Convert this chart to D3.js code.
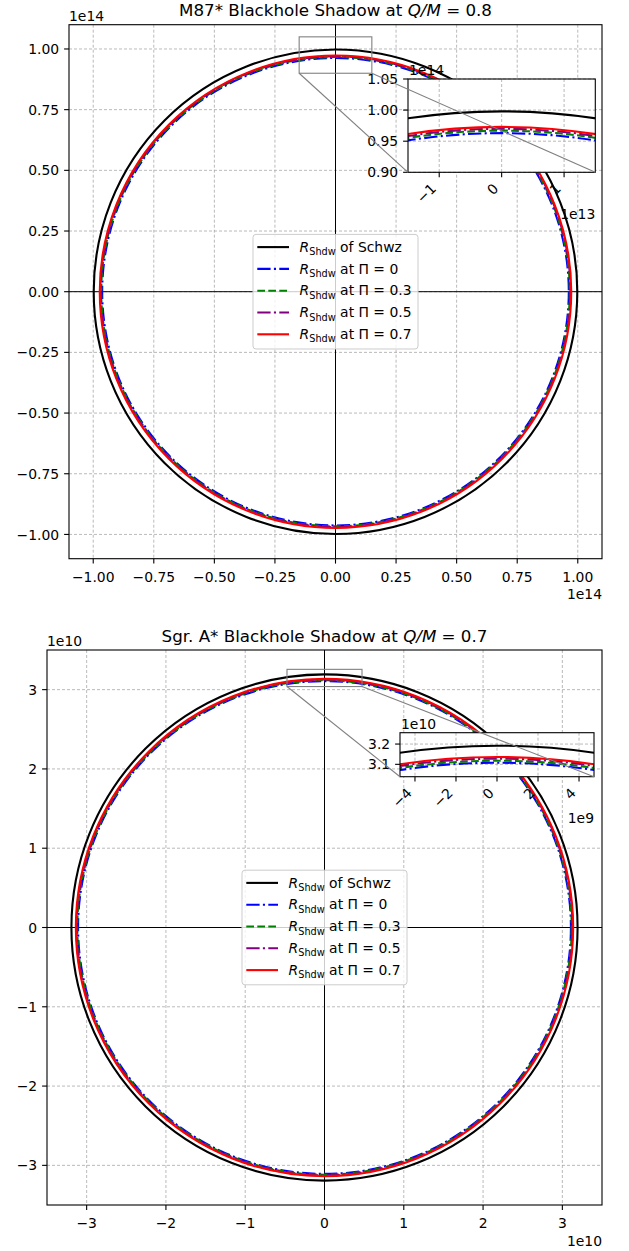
<!DOCTYPE html>
<html lang="en">
<head>
<meta charset="UTF-8">
<title>Blackhole Shadow</title>
<style>
  body { margin: 0; background: #fff; }
  svg { display: block; font-family: "DejaVu Sans", sans-serif; }
  text { white-space: pre; }
</style>
</head>
<body>
<svg width="629" height="1251"></svg>
<script src="https://d3js.org/d3.v7.min.js"></script>
<script>
// legend labels (after R_Shdw), colours and line styles
const seriesLabels = ["of Schwz", "at Π = 0", "at Π = 0.3", "at Π = 0.5", "at Π = 0.7"];
const seriesColors = ["black", "blue", "green", "purple", "red"];
const seriesStyles = ["solid", "dashdot", "dash", "dashdot", "solid"];

// shadow radii
const m87Radii = [0.998e14, 0.963e14, 0.967e14, 0.970e14, 0.973e14];
const sgrRadii = [3.192e10, 3.108e10, 3.118e10, 3.128e10, 3.136e10];

// tick values (in units of the offset exponent)
const m87Ticks = [-1, -0.75, -0.5, -0.25, 0, 0.25, 0.5, 0.75, 1];
const sgrTicks = [-3, -2, -1, 0, 1, 2, 3];
const m87InsetXTicks = [-1, 0, 1];
const m87InsetYTicks = [0.90, 0.95, 1.00, 1.05];
const sgrInsetXTicks = [-4, -2, 0, 2, 4];
const sgrInsetYTicks = [3.1, 3.2];

const dashes = { solid: null, dash: "7.7,3.3", dashdot: "13.3,3.3,2.1,3.3" };
const FS = 13.9;
const gridColor = "#a8a8a8";

const panels = [
  {
    id: "m87", title: ["M87* Blackhole Shadow at ", "Q/M", " = 0.8"],
    radii: m87Radii, lim: 1.1e14, exp: 14, ticks: m87Ticks, fmt: ".2f",
    box: { x0: 69, x1: 602, y0: 24.7, y1: 558.7 },
    inset: {
      box: { x0: 408, x1: 595.3, y0: 79, y1: 172.3 },
      xlim: [-1.5e13, 1.5e13], ylim: [0.90e14, 1.05e14],
      xexp: 13, yexp: 14, xticks: m87InsetXTicks, yticks: m87InsetYTicks,
      xfmt: "d", yfmt: ".2f"
    }
  },
  {
    id: "sgr", title: ["Sgr. A* Blackhole Shadow at ", "Q/M", " = 0.7"],
    radii: sgrRadii, lim: 3.5e10, exp: 10, ticks: sgrTicks, fmt: "d",
    box: { x0: 47, x1: 602, y0: 650, y1: 1205 },
    inset: {
      box: { x0: 400, x1: 594, y0: 732.7, y1: 776.7 },
      xlim: [-4.73e9, 4.73e9], ylim: [3.039e10, 3.256e10],
      xexp: 9, yexp: 10, xticks: sgrInsetXTicks, yticks: sgrInsetYTicks,
      xfmt: "d", yfmt: ".1f"
    }
  }
];

const svg = d3.select("svg");
const defs = svg.append("defs");

function drawCircles(g, x, y, radii, clipId) {
  g.append("g").attr("clip-path", `url(#${clipId})`)
    .selectAll("ellipse")
    .data(radii)
    .join("ellipse")
    .attr("cx", x(0))
    .attr("cy", y(0))
    .attr("rx", d => x(d) - x(0))
    .attr("ry", d => y(0) - y(d))
    .attr("fill", "none")
    .attr("stroke", (d, i) => seriesColors[i])
    .attr("stroke-width", 2.1)
    .attr("stroke-dasharray", (d, i) => dashes[seriesStyles[i]]);
}

function drawGrid(g, x, y, xt, yt, box) {
  g.selectAll(".gx").data(xt).join("line")
    .attr("x1", d => x(d)).attr("x2", d => x(d))
    .attr("y1", box.y0).attr("y2", box.y1);
  g.selectAll(".gy").data(yt).join("line")
    .attr("y1", d => y(d)).attr("y2", d => y(d))
    .attr("x1", box.x0).attr("x2", box.x1);
  g.selectAll("line")
    .attr("stroke", gridColor).attr("stroke-width", 0.8)
    .attr("stroke-dasharray", "3,2");
}

function drawLegend(cx, cy) {
  const rowH = 21.8, padTop = 12.7;
  const lg = svg.append("g");
  const frame = lg.append("rect");
  let maxW = 0;
  seriesLabels.forEach((lab, i) => {
    const ry = padTop + i * rowH;
    lg.append("line")
      .attr("x1", 4.3).attr("x2", 36).attr("y1", ry).attr("y2", ry)
      .attr("stroke", seriesColors[i]).attr("stroke-width", 2.1)
      .attr("stroke-dasharray", dashes[seriesStyles[i]]);
    const t = lg.append("text").attr("x", 46.6).attr("y", ry + 4.8)
      .attr("font-size", FS);
    t.append("tspan").attr("font-style", "italic").text("R");
    t.append("tspan").attr("font-size", FS * 0.7).attr("dy", 3.4).text("Shdw");
    t.append("tspan").attr("dy", -3.4).text(" " + lab);
    maxW = Math.max(maxW, t.node().getComputedTextLength());
  });
  const w = 46.6 + maxW + 6.5, h = padTop * 2 + rowH * 4 + 2;
  frame.attr("x", 0).attr("y", 0).attr("width", w).attr("height", h)
    .attr("rx", 3).attr("fill", "white").attr("fill-opacity", 0.8)
    .attr("stroke", "#cccccc").attr("stroke-width", 1);
  lg.attr("transform", `translate(${cx - w / 2},${cy - h / 2})`);
}

function drawPanel(p) {
  const b = p.box;
  const unit = Math.pow(10, p.exp);
  const x = d3.scaleLinear().domain([-p.lim, p.lim]).range([b.x0, b.x1]);
  const y = d3.scaleLinear().domain([-p.lim, p.lim]).range([b.y1, b.y0]);
  const g = svg.append("g");

  defs.append("clipPath").attr("id", "clip-" + p.id).append("rect")
    .attr("x", b.x0).attr("y", b.y0).attr("width", b.x1 - b.x0).attr("height", b.y1 - b.y0);

  const tv = p.ticks.map(t => t * unit);
  drawGrid(g.append("g"), x, y, tv, tv, b);

  // zero lines
  g.append("line").attr("x1", b.x0).attr("x2", b.x1).attr("y1", y(0)).attr("y2", y(0))
    .attr("stroke", "black").attr("stroke-width", 1);
  g.append("line").attr("x1", x(0)).attr("x2", x(0)).attr("y1", b.y0).attr("y2", b.y1)
    .attr("stroke", "black").attr("stroke-width", 1);

  drawCircles(g, x, y, p.radii, "clip-" + p.id);

  // spines
  g.append("rect").attr("x", b.x0).attr("y", b.y0)
    .attr("width", b.x1 - b.x0).attr("height", b.y1 - b.y0)
    .attr("fill", "none").attr("stroke", "black").attr("stroke-width", 1.1);

  // ticks and labels
  const f = d3.format(p.fmt);
  g.selectAll(".xt").data(p.ticks).join("line")
    .attr("x1", d => x(d * unit)).attr("x2", d => x(d * unit))
    .attr("y1", b.y1).attr("y2", b.y1 + 4.9)
    .attr("stroke", "black").attr("stroke-width", 1.1);
  g.selectAll(".xl").data(p.ticks).join("text")
    .attr("x", d => x(d * unit)).attr("y", b.y1 + 23)
    .attr("text-anchor", "middle").attr("font-size", FS)
    .text(d => f(d));
  g.selectAll(".yt").data(p.ticks).join("line")
    .attr("y1", d => y(d * unit)).attr("y2", d => y(d * unit))
    .attr("x1", b.x0 - 4.9).attr("x2", b.x0)
    .attr("stroke", "black").attr("stroke-width", 1.1);
  g.selectAll(".yl").data(p.ticks).join("text")
    .attr("y", d => y(d * unit) + 5.1).attr("x", b.x0 - 9.8)
    .attr("text-anchor", "end").attr("font-size", FS)
    .text(d => f(d));

  // offset texts
  g.append("text").attr("x", b.x0).attr("y", b.y0 - 4.2).attr("font-size", FS).text("1e" + p.exp);
  g.append("text").attr("x", b.x1).attr("y", b.y1 + 40.5).attr("text-anchor", "end")
    .attr("font-size", FS).text("1e" + p.exp);

  // title
  const tt = g.append("text").attr("x", (b.x0 + b.x1) / 2).attr("y", b.y0 - 8.3)
    .attr("text-anchor", "middle").attr("font-size", 16.7);
  tt.append("tspan").text(p.title[0]);
  tt.append("tspan").attr("font-style", "italic").text(p.title[1]);
  tt.append("tspan").text(p.title[2]);

  drawLegend((b.x0 + b.x1) / 2, (b.y0 + b.y1) / 2);

  // inset
  const ins = p.inset, ib = ins.box;
  const ix = d3.scaleLinear().domain(ins.xlim).range([ib.x0, ib.x1]);
  const iy = d3.scaleLinear().domain(ins.ylim).range([ib.y1, ib.y0]);
  const ig = svg.append("g");
  ig.append("rect").attr("x", ib.x0).attr("y", ib.y0)
    .attr("width", ib.x1 - ib.x0).attr("height", ib.y1 - ib.y0).attr("fill", "white");
  defs.append("clipPath").attr("id", "iclip-" + p.id).append("rect")
    .attr("x", ib.x0).attr("y", ib.y0).attr("width", ib.x1 - ib.x0).attr("height", ib.y1 - ib.y0);
  const xu = Math.pow(10, ins.xexp), yu = Math.pow(10, ins.yexp);
  drawGrid(ig.append("g"), ix, iy, ins.xticks.map(t => t * xu), ins.yticks.map(t => t * yu), ib);
  drawCircles(ig, ix, iy, p.radii, "iclip-" + p.id);
  ig.append("rect").attr("x", ib.x0).attr("y", ib.y0)
    .attr("width", ib.x1 - ib.x0).attr("height", ib.y1 - ib.y0)
    .attr("fill", "none").attr("stroke", "black").attr("stroke-width", 1.1);

  const fx = d3.format(ins.xfmt), fy = d3.format(ins.yfmt);
  ig.selectAll(".ixt").data(ins.xticks).join("line")
    .attr("x1", d => ix(d * xu)).attr("x2", d => ix(d * xu))
    .attr("y1", ib.y1).attr("y2", ib.y1 + 4.9)
    .attr("stroke", "black").attr("stroke-width", 1.1);
  ig.selectAll(".ixl").data(ins.xticks).join("text")
    .attr("transform", d => `translate(${ix(d * xu) - 2.3},${ib.y1 + 9.8 + 7.5}) rotate(-45)`)
    .attr("text-anchor", "end").attr("font-size", FS)
    .text(d => fx(d));
  ig.selectAll(".iyt").data(ins.yticks).join("line")
    .attr("y1", d => iy(d * yu)).attr("y2", d => iy(d * yu))
    .attr("x1", ib.x0 - 4.9).attr("x2", ib.x0)
    .attr("stroke", "black").attr("stroke-width", 1.1);
  ig.selectAll(".iyl").data(ins.yticks).join("text")
    .attr("y", d => iy(d * yu) + 5.1).attr("x", ib.x0 - 9.8)
    .attr("text-anchor", "end").attr("font-size", FS)
    .text(d => fy(d));
  ig.append("text").attr("x", ib.x0 + 1).attr("y", ib.y0 - 4.2).attr("font-size", FS).text("1e" + ins.yexp);
  ig.append("text").attr("x", ib.x1).attr("y", ib.y1 + 46.5).attr("text-anchor", "end")
    .attr("font-size", FS).text("1e" + ins.xexp);

  // zoom marker and connectors
  const mg = svg.append("g").attr("stroke", "#808080").attr("stroke-width", 1.1).attr("fill", "none");
  const mx0 = x(ins.xlim[0]), mx1 = x(ins.xlim[1]);
  const my0 = y(ins.ylim[1]), my1 = y(ins.ylim[0]);
  mg.append("rect").attr("x", mx0).attr("y", my0).attr("width", mx1 - mx0).attr("height", my1 - my0);
  mg.append("line").attr("x1", mx0).attr("y1", my1).attr("x2", ib.x0).attr("y2", ib.y1);
  mg.append("line").attr("x1", mx1).attr("y1", my1).attr("x2", ib.x1).attr("y2", ib.y1);
}

panels.forEach(drawPanel);
</script>
</body>
</html>
